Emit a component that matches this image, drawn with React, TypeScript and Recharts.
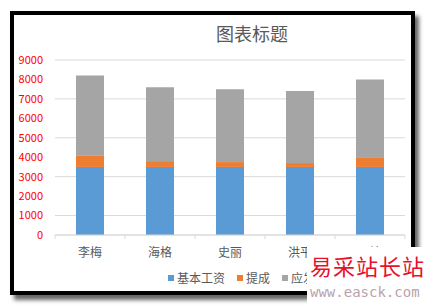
import React from 'react';
import { BarChart, Bar, XAxis, YAxis, CartesianGrid } from 'recharts';

const names = ['李梅', '海格', '史丽', '洪平', '王涛'];
const baseSalary = [3500, 3500, 3500, 3500, 3500];
const commission = [600, 300, 250, 200, 500];
const grossPay = [4100, 3800, 3750, 3700, 4000];
const yTicks = [0, 1000, 2000, 3000, 4000, 5000, 6000, 7000, 8000, 9000];
const seriesNames = ['基本工资', '提成', '应发工资'];
const seriesColors = ['#5B9BD5', '#ED7D31', '#A5A5A5'];
const title = '图表标题';

const data = names.map((n, i) => ({
  name: n,
  base: baseSalary[i],
  comm: commission[i],
  gross: grossPay[i],
}));

const FONT = '"Noto Sans CJK SC", "Noto Sans", sans-serif';
const CHART_W = 427;
const CHART_H = 307;
const MARGIN = { top: 60, right: 22, bottom: 42, left: 0 };
const Y_W = 55;
const PLOT_W = CHART_W - MARGIN.left - MARGIN.right - Y_W;
const BAND = PLOT_W / names.length;

const XTick = (props: any) => {
  const { x, y, payload, index } = props;
  const cx = payload.coordinate ?? x;
  const lineTop = y - 8;
  return (
    <g>
      <line x1={cx - BAND / 2} x2={cx - BAND / 2} y1={lineTop} y2={lineTop + 4} stroke="#D9D9D9" />
      {index === names.length - 1 && (
        <line x1={cx + BAND / 2} x2={cx + BAND / 2} y1={lineTop} y2={lineTop + 4} stroke="#D9D9D9" />
      )}
      <text x={cx} y={y} dy={13.5} textAnchor="middle" fill="#595959" fontSize={12} fontFamily={FONT}>
        {payload.value}
      </text>
    </g>
  );
};

export default function App() {
  return (
    <div style={{ position: 'fixed', left: 0, top: 0, width: CHART_W, height: CHART_H, background: '#fff', overflow: 'hidden' }}>
      <div
        style={{
          position: 'absolute', left: 10, top: 11, width: 405, height: 284, boxSizing: 'border-box',
          background: '#fff', boxShadow: '4px 5px 4px rgba(0,0,0,0.6)',
        }}
      />
      <div style={{ position: 'absolute', left: 0, top: 0 }}>
        <BarChart width={CHART_W} height={CHART_H} data={data} margin={MARGIN} barSize={28}>
          <CartesianGrid vertical={false} stroke="#D9D9D9" />
          <XAxis
            dataKey="name"
            height={30}
            axisLine={{ stroke: '#D9D9D9' }}
            tickLine={false}
            tick={<XTick />}
            interval={0}
          />
          <YAxis
            width={Y_W}
            domain={[0, 9000]}
            ticks={yTicks}
            axisLine={false}
            tickLine={false}
            tickMargin={6}
            tick={{ fill: '#FF0000', fontSize: 11, fontFamily: FONT }}
          />
          <Bar dataKey="base" stackId="a" fill={seriesColors[0]} isAnimationActive={false} />
          <Bar dataKey="comm" stackId="a" fill={seriesColors[1]} isAnimationActive={false} />
          <Bar dataKey="gross" stackId="a" fill={seriesColors[2]} isAnimationActive={false} />
        </BarChart>
      </div>
      <div
        style={{
          position: 'absolute', left: 0, width: 504, top: 24, textAlign: 'center',
          fontFamily: FONT, fontSize: 18, color: '#595959', lineHeight: '18px',
        }}
      >
        {title}
      </div>
      <div style={{ position: 'absolute', left: 168, top: 270, display: 'flex', alignItems: 'center', fontFamily: FONT, fontSize: 12, color: '#595959', lineHeight: '16px', whiteSpace: 'nowrap' }}>
        {seriesNames.map((s, i) => (
          <div key={s} style={{ display: 'flex', alignItems: 'center', marginRight: 12 }}>
            <div style={{ width: 6, height: 6, background: seriesColors[i], marginRight: 3 }} />
            <span>{s}</span>
          </div>
        ))}
      </div>
      <div
        style={{
          position: 'absolute', left: 10, top: 11, width: 405, height: 284, boxSizing: 'border-box',
          border: '4px solid #000', pointerEvents: 'none',
        }}
      />
      <div style={{ position: 'absolute', left: 307, top: 247, width: 120, height: 60, background: '#fff' }}>
        <div style={{ position: 'absolute', left: 3, top: 6, fontFamily: FONT, fontSize: 22, color: '#E8102A', letterSpacing: 1, lineHeight: '24px', whiteSpace: 'nowrap', fontWeight: 400 }}>
          易采站长站
        </div>
        <div style={{ position: 'absolute', left: 3, top: 37, fontFamily: '"DejaVu Sans Mono", monospace', fontSize: 14, color: '#B9A3AB', lineHeight: '16px', whiteSpace: 'nowrap' }}>
          www.easck.com
        </div>
      </div>
    </div>
  );
}
